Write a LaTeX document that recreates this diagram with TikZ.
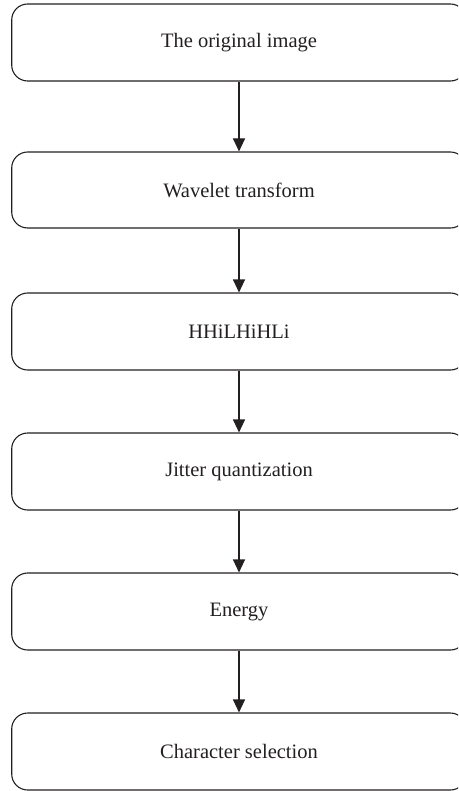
\documentclass[tikz,border=0pt]{standalone}
\usepackage{fontspec}
\setmainfont{Liberation Serif}
\usetikzlibrary{arrows.meta}
\definecolor{ink}{HTML}{231F20}
\tikzset{
  stepbox/.style={draw=ink, line width=1.1pt, rounded corners=16pt, minimum width=454.6pt, inner sep=0pt, text=ink, font=\fontsize{20.5}{24}\selectfont},
  flow/.style={draw=ink, line width=1.1pt, -{Triangle[length=13pt,width=12pt]}}
}
\begin{document}
\begin{tikzpicture}[x=1pt,y=-1pt]
\useasboundingbox (0,0) rectangle (458,791);
\clip (0,0) rectangle (458,791);
\node[stepbox, minimum height=77pt] (b1) at (239,42.5) {The original image};
\node[stepbox, minimum height=76pt] (b2) at (239,190) {Wavelet transform};
\node[stepbox, minimum height=77pt] (b3) at (239,331.5) {HHiLHiHLi};
\node[stepbox, minimum height=77pt] (b4) at (239,471.5) {Jitter quantization};
\node[stepbox, minimum height=77pt] (b5) at (239,611.5) {Energy};
\node[stepbox, minimum height=77pt] (b6) at (239,751.5) {Character selection};
\draw[flow] (b1) -- (b2);
\draw[flow] (b2) -- (b3);
\draw[flow] (b3) -- (b4);
\draw[flow] (b4) -- (b5);
\draw[flow] (b5) -- (b6);
\end{tikzpicture}
\end{document}
